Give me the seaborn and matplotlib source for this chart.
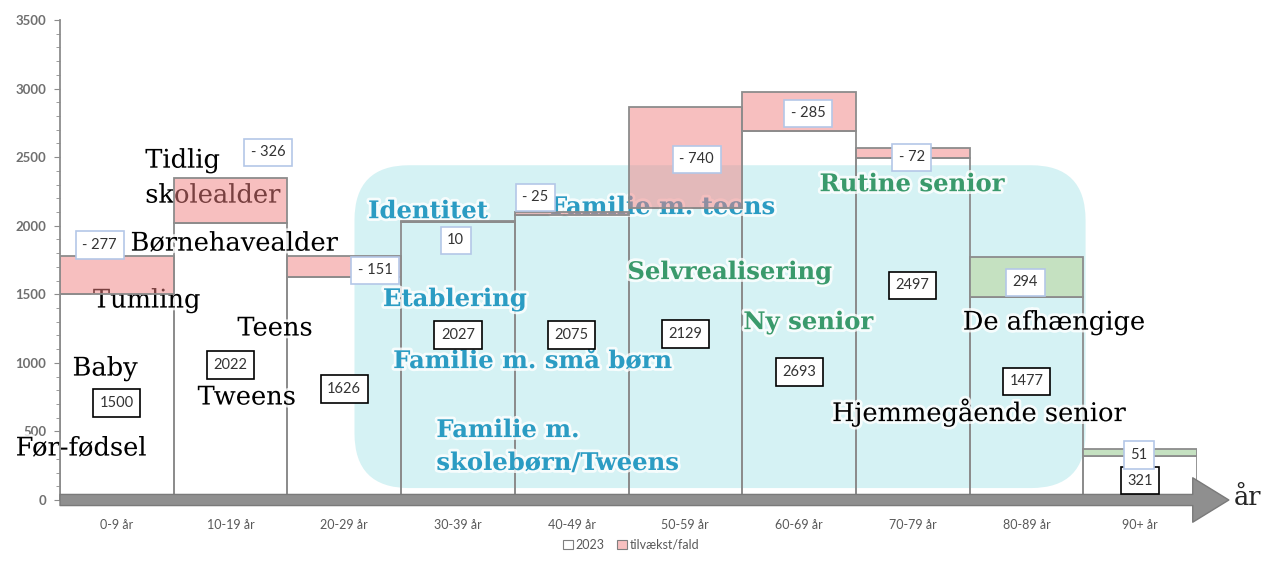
import numpy as np
import matplotlib
matplotlib.use("Agg")
import matplotlib.pyplot as plt
import matplotlib.patheffects as pe
from matplotlib.patches import FancyBboxPatch, Patch
from matplotlib.ticker import MultipleLocator
import seaborn as sns

# data
age_groups = ["0-9 år", "10-19 år", "20-29 år", "30-39 år", "40-49 år",
              "50-59 år", "60-69 år", "70-79 år", "80-89 år", "90+ år"]
pop_2023 = [1500, 2022, 1626, 2027, 2075, 2129, 2693, 2497, 1477, 321]
change = [-277, -326, -151, 10, -25, -740, -285, -72, 294, 51]

# where the value boxes sit (hand placed in the original)
base_label_y = [707, 984, 809, 1203, 1203, 1210, 933, 1567, 867, 140]
change_label_x = [-0.15, 1.33, 2.27, 2.98, 3.68, 5.10, 6.08, 6.99, 7.99, 8.99]
change_label_y = [1859, 2536, 1676, 1895, 2208, 2485, 2821, 2500, 1589, 328]

# life stage annotations: (text, x, y, style)
stages = [
    ("Tidlig", 0.25, 2478, "plain"),
    ("skolealder", 0.25, 2223, "plain"),
    ("Børnehavealder", 0.12, 1873, "plain"),
    ("Tumling", -0.21, 1458, "plain"),
    ("Teens", 1.06, 1254, "plain"),
    ("Baby", -0.39, 962, "plain"),
    ("Tweens", 0.71, 751, "plain"),
    ("Før-fødsel", -0.89, 379, "plain"),
    ("Identitet", 2.21, 2106, "teal"),
    ("Familie m. teens", 3.81, 2136, "teal"),
    ("Rutine senior", 6.18, 2303, "green"),
    ("Selvrealisering", 4.49, 1662, "green"),
    ("Etablering", 2.34, 1465, "teal"),
    ("Ny senior", 5.51, 1297, "green"),
    ("De afhængige", 7.44, 1297, "plain"),
    ("Familie m. små børn", 2.43, 1013, "teal"),
    ("Hjemmegående senior", 6.29, 641, "plain"),
    ("Familie m.", 2.81, 510, "teal"),
    ("skolebørn/Tweens", 2.81, 270, "teal"),
]

sns.set_style("white")
plt.rcParams["font.family"] = ["Lato", "DejaVu Sans"]

pink = (0.945, 0.506, 0.506, 0.5)
green = "#c5e1c1"
edge = "#8c8c8c"
grey_txt = "#6f6f6f"

fig = plt.figure(figsize=(12.62, 5.62), dpi=100)
ax = fig.add_axes([60 / 1262, 62 / 562, 1137 / 1262, 480 / 562])

# light cyan background block
bg = FancyBboxPatch((2.09, 87), 8.52 - 2.09, 2441 - 87,
                    boxstyle="round,pad=0,rounding_size=0.48",
                    mutation_aspect=833, fc="#d5f2f4", ec="none", zorder=0.5)
ax.add_patch(bg)

sns.barplot(x=age_groups, y=pop_2023, width=1.0, color="white",
            edgecolor=edge, linewidth=1.3, ax=ax, zorder=1)
for p in ax.patches:
    if p is not bg:
        p.set_facecolor("none")

x = np.arange(len(age_groups))
ax.bar(x, np.abs(change), bottom=pop_2023, width=1.0,
       color=[pink if c < 0 else green for c in change],
       edgecolor=edge, linewidth=1.3, zorder=3)

glow = [pe.withStroke(linewidth=4, foreground="white", alpha=0.8)]
for txt, tx, ty, style in stages:
    if style == "plain":
        ax.text(tx, ty, txt, family="DejaVu Serif", fontsize=18.5, color="black",
                va="center", ha="left", zorder=2, path_effects=glow)
    else:
        col = "#2b9cc3" if style == "teal" else "#3a9a6c"
        ax.text(tx, ty, txt, family="DejaVu Serif", fontweight="bold",
                fontsize=17.5, color=col, va="center", ha="left", zorder=2,
                path_effects=glow)

for i, v in enumerate(pop_2023):
    ax.text(i, base_label_y[i], str(v), fontsize=10.5, color="#333333",
            ha="center", va="center", zorder=6,
            bbox=dict(boxstyle="square,pad=0.45", fc="white", ec="black", lw=1.2))

for i, c in enumerate(change):
    lab = f"- {abs(c)}" if c < 0 else str(c)
    ax.text(change_label_x[i], change_label_y[i], lab, fontsize=10.5,
            color="#333333", ha="center", va="center", zorder=6,
            bbox=dict(boxstyle="square,pad=0.45", fc="white", ec="#b4c7e7", lw=1.2))

# thick x axis arrow
ax.annotate("", xy=(9.78, 0), xytext=(-0.5, 0), annotation_clip=False,
            arrowprops=dict(arrowstyle="simple,head_length=1.3,head_width=1.6,tail_width=0.4",
                            mutation_scale=20, fc="#8f8f8f", ec="#7a7a7a", lw=1,
                            shrinkA=0, shrinkB=0),
            zorder=4)
ax.text(9.82, 20, "år", family="DejaVu Serif", fontsize=18.5, ha="left",
        va="center", clip_on=False)

ax.set_xlim(-0.5, 9.5)
ax.set_ylim(0, 3500)
ax.yaxis.set_major_locator(MultipleLocator(500))
ax.yaxis.set_minor_locator(MultipleLocator(100))
ax.set_xlabel("")
ax.set_ylabel("")
for s in ["top", "right", "bottom"]:
    ax.spines[s].set_visible(False)
ax.spines["left"].set_color(edge)
ax.spines["left"].set_linewidth(1.3)
ax.tick_params(axis="y", which="major", length=4, color=edge, pad=6,
               labelsize=9.5, labelcolor=grey_txt, left=True)
ax.tick_params(axis="y", which="minor", length=3, color=edge, left=True)
for lab in ax.get_yticklabels():
    lab.set_fontweight("bold")
ax.tick_params(axis="x", length=0, pad=14, labelsize=9, labelcolor="#595959")

handles = [Patch(fc="white", ec="#7f7f7f", lw=0.8),
           Patch(fc="#f8c0c0", ec="#7f7f7f", lw=0.8)]
fig.legend(handles, ["2023", "tilvækst/fald"], loc="lower center",
           bbox_to_anchor=(0.5, 0.0), ncol=2, frameon=False, fontsize=9,
           handlelength=0.8, handleheight=0.8, handletextpad=0.2,
           columnspacing=1.0, labelcolor="#595959")

fig.savefig("out.png", dpi=100)
